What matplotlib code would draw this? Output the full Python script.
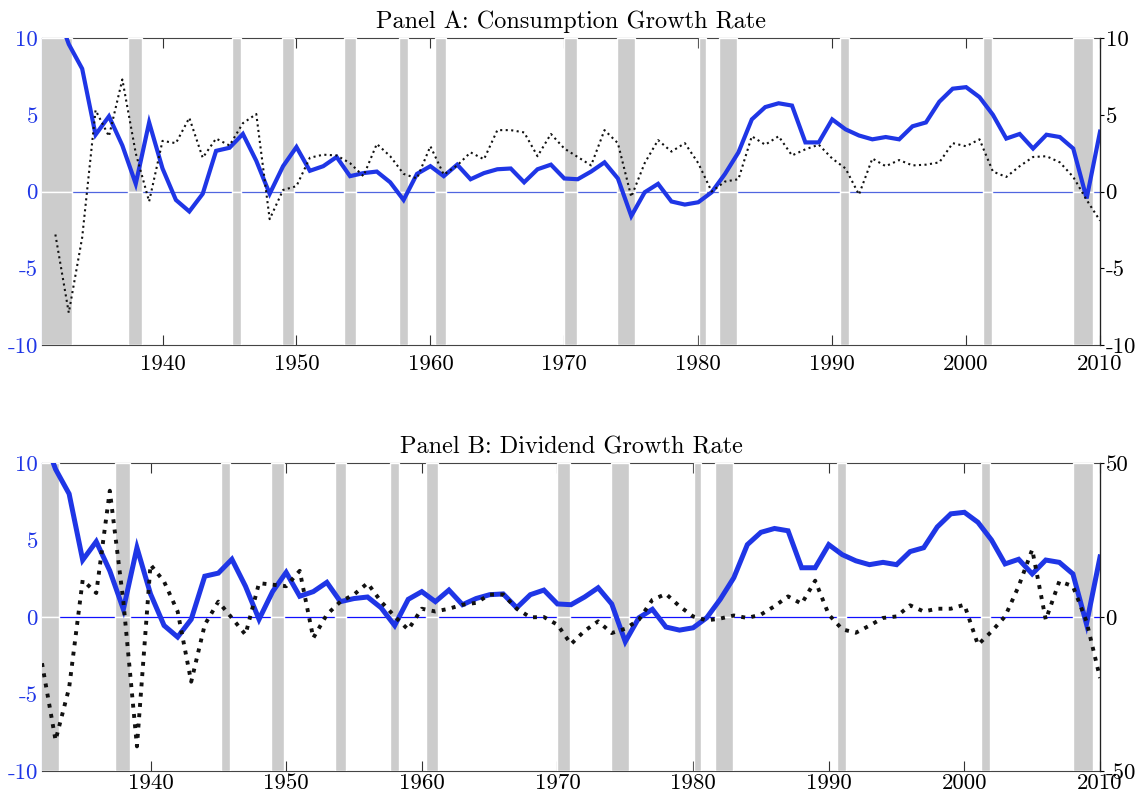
import numpy as np
import matplotlib
matplotlib.use("Agg")
import matplotlib.pyplot as plt

plt.rcParams['font.family'] = ['cmr10', 'DejaVu Serif']
plt.rcParams['axes.unicode_minus'] = False

years = list(range(1932, 2011))

# blue series (left axis), same in both panels
blue_rate = [
    12.0, 9.6, 8.0, 3.7, 4.9, 3.0, 0.5, 4.5,                          # 1932-1939
    1.5, -0.55, -1.3, -0.15, 2.65, 2.85, 3.75, 2.0, -0.15, 1.65,      # 1940s
    2.9, 1.35, 1.65, 2.25, 1.0, 1.2, 1.3, 0.6, -0.55, 1.15,           # 1950s
    1.65, 1.0, 1.75, 0.8, 1.2, 1.45, 1.5, 0.6, 1.45, 1.75,            # 1960s
    0.85, 0.8, 1.3, 1.9, 0.85, -1.6, -0.05, 0.5, -0.65, -0.85,        # 1970s
    -0.7, -0.05, 1.15, 2.55, 4.7, 5.5, 5.75, 5.6, 3.2, 3.2,           # 1980s
    4.7, 4.05, 3.65, 3.4, 3.55, 3.4, 4.25, 4.5, 5.85, 6.7,            # 1990s
    6.8, 6.15, 5.0, 3.45, 3.75, 2.8, 3.7, 3.55, 2.8, -0.45,           # 2000s
    3.9,                                                              # 2010
]

# consumption growth (right axis, panel A)
consumption = [
    -2.8, -7.9, -3.0, 5.3, 3.6, 7.3, 2.5, -0.65,
    3.3, 3.15, 4.8, 2.2, 3.45, 3.0, 4.45, 5.05, -1.8, 0.1,
    0.35, 2.2, 2.4, 2.35, 1.85, 1.0, 3.1, 2.3, 1.15, 0.85,
    2.95, 1.1, 1.7, 2.55, 2.1, 4.0, 4.0, 3.85, 2.3, 3.75,
    2.8, 2.25, 1.7, 4.0, 3.15, -0.35, 1.85, 3.35, 2.6, 3.15,
    1.85, 0.0, 0.65, 0.8, 3.6, 3.05, 3.6, 2.35, 2.75, 3.05,
    2.15, 1.5, -0.2, 2.15, 1.65, 2.05, 1.7, 1.75, 1.9, 3.15,
    2.95, 3.4, 1.3, 0.95, 1.65, 2.25, 2.3, 1.9, 0.95, -0.55,
    -1.9,
]

# dividend growth (right axis, panel B)
dividend = [
    -15.0, -40.0, -23.0, 12.0, 7.8, 41.0, 5.0, -42.0,
    17.0, 11.5, 1.8, -21.0, -2.5, 5.0, -0.3, -5.7, 11.0, 10.5,
    10.0, 15.0, -6.8, 0.8, 5.0, 7.3, 11.0, 5.0, 0.2, -4.1,
    2.7, 1.8, 2.7, 4.0, 4.6, 7.3, 7.3, 2.7, -0.1, 0.0,
    -2.5, -8.8, -4.5, -1.4, -5.2, -3.8, -0.9, 5.6, 7.5, 3.5,
    0.2, -1.1, -0.5, 0.5, -0.3, 0.8, 3.5, 6.7, 4.3, 11.8,
    0.8, -4.0, -5.1, -2.8, -0.3, 0.2, 3.8, 1.8, 2.7, 2.7,
    4.0, -9.0, -4.7, 0.2, 10.0, 21.9, -0.9, 11.6, 10.0, -1.4,
    -19.8,
]

# NBER recessions: (peak year, month, trough year, month)
recessions = [
    (1929, 8, 1933, 3), (1937, 5, 1938, 6), (1945, 2, 1945, 10),
    (1948, 11, 1949, 10), (1953, 7, 1954, 5), (1957, 8, 1958, 4),
    (1960, 4, 1961, 2), (1969, 12, 1970, 11), (1973, 11, 1975, 3),
    (1980, 1, 1980, 7), (1981, 7, 1982, 11), (1990, 7, 1991, 3),
    (2001, 3, 2001, 11), (2007, 12, 2009, 6),
]

xticks = [1940, 1950, 1960, 1970, 1980, 1990, 2000, 2010]

BLUE = '#1f36e6'
GRAY = '#cccccc'


def draw_panel(ax, title, xmin, right_series, right_lim, right_ticks, dot_lw, blue_lw,
               zero_color, xpad):
    # recession bars, split at zero so the white edge shows
    for y0, m0, y1, m1 in recessions:
        s = y0 + m0 / 12.0
        e = y1 + m1 / 12.0
        ax.axvspan(s, e, ymin=0.5, ymax=1.0, facecolor=GRAY, edgecolor='white', lw=1.0, zorder=3)
        ax.axvspan(s, e, ymin=0.0, ymax=0.5, facecolor=GRAY, edgecolor='white', lw=1.0, zorder=3)

    ax.axhline(0, color=zero_color, lw=0.9, zorder=1)
    ax.plot(years, blue_rate, color=BLUE, lw=blue_lw, zorder=4, solid_joinstyle='miter')

    ax.set_xlim(xmin, 2010)
    ax.set_ylim(-10, 10)
    ax.set_xticks(xticks)
    ax.set_xticklabels([str(t) for t in xticks])
    ax.set_yticks([-10, -5, 0, 5, 10])
    ax.set_yticklabels(['-10', '-5', '0', '5', '10'])
    ax.tick_params(axis='x', direction='in', length=7, width=0.8, top=True, bottom=True,
                   labelsize=16.5, pad=xpad, color='#333333')
    ax.tick_params(axis='y', length=0, labelsize=16.5, labelcolor=BLUE, pad=3)
    ax.spines['left'].set_color('#6677e6')
    for side in ['top', 'bottom', 'right']:
        ax.spines[side].set_color('#444444')
        ax.spines[side].set_linewidth(0.8)
    ax.set_title(title, fontsize=17.5, pad=7)

    ax2 = ax.twinx()
    ax2.plot(years, right_series, color='#111111', lw=dot_lw, ls=':', zorder=5)
    ax2.set_ylim(-right_lim, right_lim)
    ax2.set_yticks(right_ticks)
    ax2.set_yticklabels([str(t) for t in right_ticks])
    ax2.tick_params(axis='y', direction='out', length=3, width=0.8, labelsize=16.5, pad=1)
    ax2.spines['left'].set_visible(False)
    ax2.spines['top'].set_visible(False)
    ax2.spines['bottom'].set_visible(False)
    ax2.spines['right'].set_color('#222222')
    ax2.spines['right'].set_linewidth(0.9)
    return ax2


fig = plt.figure(figsize=(11.41, 7.99), dpi=100)
ax_a = fig.add_axes([0.0368, 0.5682, 0.9273, 0.3842])
ax_b = fig.add_axes([0.0368, 0.0350, 0.9273, 0.3855])

draw_panel(ax_a, 'Panel A: Consumption Growth Rate', 1931, consumption, 10,
           [-10, -5, 0, 5, 10], 1.5, 3.0, '#5066e0', 7)
draw_panel(ax_b, 'Panel B: Dividend Growth Rate', 1932, dividend, 50,
           [-50, 0, 50], 2.8, 3.6, '#1010ff', 2)

fig.savefig('out.png', dpi=100)
